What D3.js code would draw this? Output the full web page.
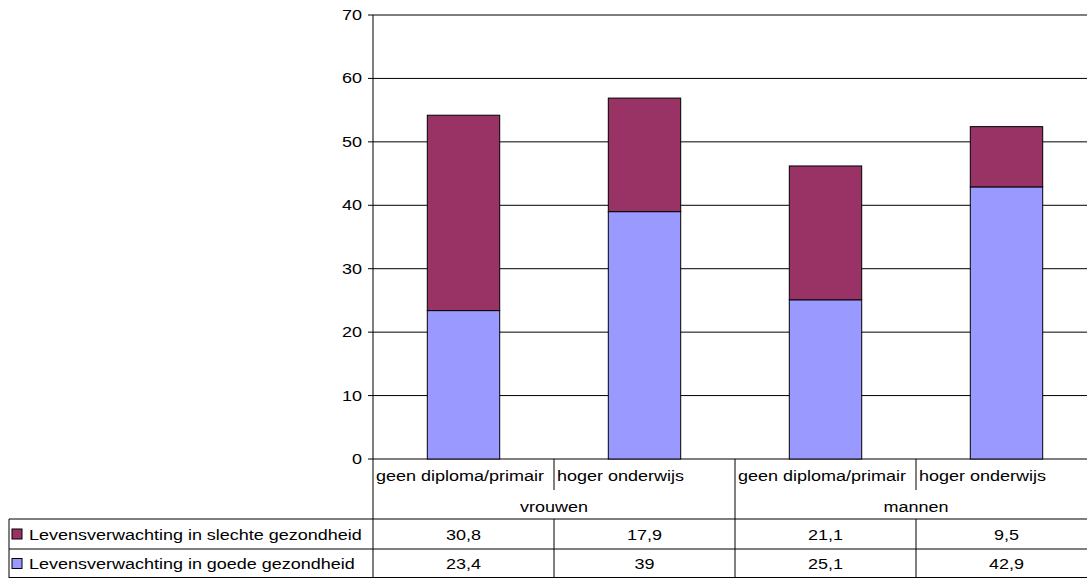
<!DOCTYPE html>
<html>
<head>
<meta charset="utf-8">
<script src="https://cdn.jsdelivr.net/npm/d3@7"></script>
<style>
  html, body { margin: 0; padding: 0; background: #fff; }
  svg { display: block; }
  text { font-family: "Liberation Sans", Arial, sans-serif; fill: #000; }
</style>
</head>
<body>
<svg id="chart" width="1087" height="579"></svg>
<script>
// ---- data ----
const categories = ["geen diploma/primair", "hoger onderwijs", "geen diploma/primair", "hoger onderwijs"];
const groups = ["vrouwen", "mannen"];
const seriesNames = ["Levensverwachting in slechte gezondheid", "Levensverwachting in goede gezondheid"];
const goedValues = [23.4, 39, 25.1, 42.9];
const slechtValues = [30.8, 17.9, 21.1, 9.5];
const goedLabels = ["23,4", "39", "25,1", "42,9"];
const slechtLabels = ["30,8", "17,9", "21,1", "9,5"];
const yTicks = [0, 10, 20, 30, 40, 50, 60, 70];
const colors = { slecht: "#993366", goed: "#9999FF" };

// ---- layout ----
const svg = d3.select("#chart");
const W = 1087;
const plotLeft = 373, plotTop = 15, plotBottom = 459;
const step = 181;
const tableLeft = 9;
const rowCatBottom = 490, rowGroupBottom = 519, row1Bottom = 549, row2Bottom = 578;
const SX = 1.2, FS = 15;

const x = d3.scaleBand().domain(d3.range(categories.length))
  .range([plotLeft, plotLeft + step * categories.length]).padding(0);
const y = d3.scaleLinear().domain([0, 70]).range([plotBottom, plotTop]);
const barW = x.bandwidth() * 0.4;

function txt(g, s, tx, ty, anchor) {
  return g.append("text")
    .attr("transform", `translate(${tx},${ty}) scale(${SX},1)`)
    .attr("text-anchor", anchor || "start")
    .style("font-size", FS + "px")
    .text(s);
}

// gridlines
const grid = svg.append("g");
grid.selectAll("line").data(yTicks).join("line")
  .attr("x1", plotLeft).attr("x2", W)
  .attr("y1", d => y(d)).attr("y2", d => y(d))
  .attr("stroke", "#000").attr("stroke-width", 1);

// bars
const rows = categories.map((c, i) => ({ i, goed: goedValues[i], slecht: slechtValues[i] }));
const stack = d3.stack().keys(["goed", "slecht"]);
const stacked = stack(rows);
svg.append("g").selectAll("g").data(stacked).join("g")
  .attr("fill", d => colors[d.key])
  .selectAll("rect").data(d => d).join("rect")
  .attr("x", d => x(d.data.i) + (x.bandwidth() - barW) / 2)
  .attr("width", barW)
  .attr("y", d => y(d[1]))
  .attr("height", d => y(d[0]) - y(d[1]))
  .attr("stroke", "#000").attr("stroke-width", 1);

// y axis
const ax = svg.append("g");
ax.append("line").attr("x1", plotLeft).attr("x2", plotLeft)
  .attr("y1", plotTop).attr("y2", row2Bottom).attr("stroke", "#000");
ax.selectAll("line.tick").data(yTicks).join("line").attr("class", "tick")
  .attr("x1", plotLeft - 5).attr("x2", plotLeft)
  .attr("y1", d => y(d)).attr("y2", d => y(d)).attr("stroke", "#000");
yTicks.forEach(t => txt(ax, String(t), 362, y(t) + 5, "end"));

// table
const tb = svg.append("g");
const hl = (x1, x2, yy) => tb.append("line").attr("x1", x1).attr("x2", x2).attr("y1", yy).attr("y2", yy).attr("stroke", "#000");
const vl = (xx, y1, y2) => tb.append("line").attr("x1", xx).attr("x2", xx).attr("y1", y1).attr("y2", y2).attr("stroke", "#000");
hl(tableLeft, W, rowGroupBottom);
hl(tableLeft, W, row1Bottom);
hl(tableLeft, W, row2Bottom - 0.5);
vl(tableLeft, rowGroupBottom, row2Bottom);

categories.forEach((c, i) => {
  const x0 = x(i), x1 = x(i) + step;
  const groupEnd = (i % 2 === 1);
  vl(x1, plotBottom, groupEnd ? row2Bottom : rowCatBottom);
  if (!groupEnd) vl(x1, rowGroupBottom, row2Bottom);
  txt(tb, c, x0 + 3, 481, "start");
  txt(tb, slechtLabels[i], x0 + step / 2, 540, "middle");
  txt(tb, goedLabels[i], x0 + step / 2, 569, "middle");
});
groups.forEach((g, gi) => {
  const cx = x(gi * 2) + step;
  txt(tb, g, cx, 512, "middle");
});

// legend keys in table
const legendRows = [
  { name: seriesNames[0], color: colors.slecht, top: rowGroupBottom, bottom: row1Bottom },
  { name: seriesNames[1], color: colors.goed, top: row1Bottom, bottom: row2Bottom }
];
legendRows.forEach(r => {
  const cy = (r.top + r.bottom) / 2;
  tb.append("rect").attr("x", 12).attr("y", cy - 5).attr("width", 10).attr("height", 10)
    .attr("fill", r.color).attr("stroke", "#000");
  txt(tb, r.name, 29, r.bottom - 9, "start");
});
</script>
</body>
</html>
